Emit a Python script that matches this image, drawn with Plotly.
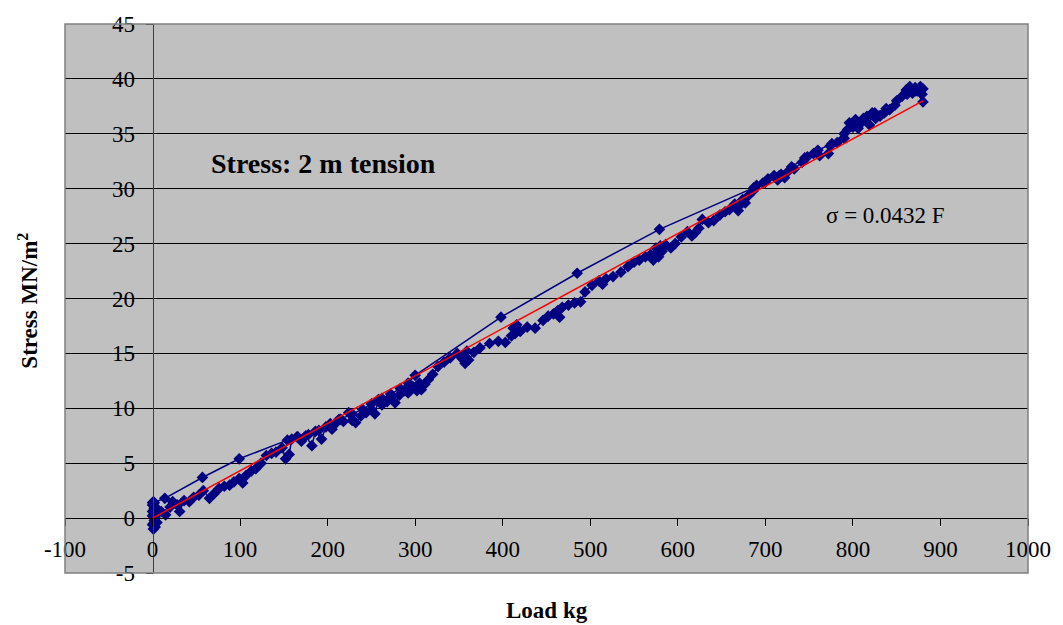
import plotly.graph_objects as go

# Load (kg) and stress (MN/m^2) readings, in recorded order
load_kg = [
    0, 1, 2, 0, 3, 1, 4, 2, 0, 3, 5, 2, 1, 4, 3, 6,
    10, 15, 20, 23, 28, 31, 36, 42, 47, 53, 58, 65, 70, 76, 82, 88, 93, 99, 103, 107,
    113, 118, 124, 130, 136, 141, 148, 152, 156, 159, 165, 170, 175, 182, 186, 193, 198,
    205, 210, 213, 218, 224, 228, 232, 238, 244, 250, 254, 258, 262, 268, 273, 277, 282,
    288, 292, 297, 302, 305, 307, 311, 315, 320, 326, 333, 340, 348, 354, 357, 359, 356,
    361, 367, 374, 385, 395, 403, 410, 412, 414, 416, 420, 428, 437, 446, 452, 458, 463,
    465, 468, 475, 482, 489, 494, 502, 510, 514, 518, 526, 535, 543, 550, 556, 563, 569,
    572, 575, 578, 580, 576, 582, 586, 592, 597, 604, 611, 616, 620, 624, 628, 635, 641,
    648, 654, 659, 665, 669, 671, 674, 677, 681, 686, 690, 697, 703, 710, 714, 718, 722,
    725, 733, 742, 748, 755, 762, 772, 774, 782, 790, 794, 796, 800, 803, 806, 808, 812,
    816, 819, 822, 826, 831, 836, 842, 850, 856, 861, 865, 868, 871, 874, 877, 880, 879, 880,
    872, 862, 848, 838, 825, 812, 800, 790, 776, 760, 745, 730, 716, 700, 687,
    579, 485, 398, 300, 292, 283, 272, 262, 250, 240, 228, 215, 203, 190, 178, 166, 154,
    99, 57, 14, 0, 2, 1, 3, 0,
]
stress_mn_m2 = [
    0.2, -0.5, 0.8, 1.2, -0.8, 1.5, 0.3, -0.2, 0.6, 1.0, -0.4, 1.4, -1.0, 0.9, 0.0, 0.5,
    0.6, 0.3, 1.0, 1.5, 1.2, 0.6, 1.6, 1.5, 1.9, 2.1, 2.5, 1.8, 2.2, 2.7, 2.9, 3.0, 3.3, 3.6, 3.2, 3.9,
    4.3, 4.5, 5.0, 5.7, 5.9, 6.0, 6.4, 5.4, 5.8, 7.2, 7.4, 7.0, 7.5, 6.6, 7.9, 7.2, 8.3,
    8.1, 8.7, 9.0, 8.8, 9.6, 8.9, 8.7, 9.3, 9.6, 9.9, 9.5, 10.8, 10.3, 10.6, 11.0, 10.5, 11.2,
    11.6, 11.4, 12.0, 11.6, 12.3, 11.7, 12.2, 12.6, 13.1, 13.8, 14.2, 14.6, 15.0, 14.5, 14.1, 15.2, 14.8,
    14.4, 15.1, 15.5, 15.9, 16.1, 16.0, 16.6, 17.3, 16.8, 17.6, 17.0, 17.4, 17.3, 18.0, 18.4, 18.6, 18.9,
    18.3, 19.2, 19.4, 19.6, 19.7, 20.6, 21.2, 21.6, 21.3, 21.8, 22.0, 22.4, 22.9, 23.3, 23.5, 23.8, 24.0,
    23.5, 24.6, 23.8, 24.8, 24.2, 24.3, 24.9, 24.6, 25.0, 25.6, 26.1, 25.7, 26.0, 26.4, 27.2, 26.9, 27.1,
    27.6, 27.9, 28.1, 28.6, 28.0, 28.5, 29.0, 28.7, 29.4, 29.8, 30.3, 30.5, 30.9, 31.2, 30.8, 31.3, 31.0,
    31.5, 31.8, 32.4, 32.9, 33.2, 33.0, 33.2, 33.9, 34.2, 34.6, 35.4, 36.0, 35.7, 36.3, 35.5, 35.9, 36.2,
    36.6, 35.8, 36.9, 36.4, 36.6, 36.9, 37.2, 38.0, 38.4, 39.0, 39.3, 38.7, 39.2, 38.9, 39.3, 39.1, 38.6, 37.9,
    38.9, 38.6, 37.6, 37.3, 36.9, 36.4, 35.6, 35.0, 34.1, 33.5, 32.8, 32.0, 31.2, 30.6, 30.1,
    26.3, 22.3, 18.3, 13.0, 12.3, 11.8, 11.3, 10.9, 10.4, 9.9, 9.5, 9.0, 8.6, 8.0, 7.6, 7.4, 7.1,
    5.4, 3.7, 1.8, 1.4, 0.9, 0.3, -0.3, -0.6,
]

# Linear fit sigma = 0.0432 F, end points
fit_load = [0, 880]
fit_stress = [0.0, 38.0]

x_ticks = [-100, 0, 100, 200, 300, 400, 500, 600, 700, 800, 900, 1000]
x_labels = ["-100", "0", "100", "200", "300", "400", "500", "600", "700", "800", "900", "1000"]
y_ticks = [-5, 0, 5, 10, 15, 20, 25, 30, 35, 40, 45]
y_labels = ["-5", "0", "5", "10", "15", "20", "25", "30", "35", "40", "45"]

FONT = "Liberation Serif, Times New Roman, serif"
NAVY = "#000080"

L, R, T, B = 65, 1032, 17, 573  # plot area in pixels


def px(xp):
    return (xp - L) / (R - L)


def py(yp):
    return (B - yp) / (B - T)


fig = go.Figure()
fig.add_trace(go.Scatter(
    x=load_kg, y=stress_mn_m2, mode="lines+markers",
    line=dict(color=NAVY, width=1.5),
    marker=dict(symbol="diamond", size=9, color=NAVY),
    showlegend=False, hoverinfo="x+y",
))
fig.add_trace(go.Scatter(
    x=fit_load, y=fit_stress, mode="lines",
    line=dict(color="#FF0000", width=1.5),
    showlegend=False,
))

fig.update_layout(
    width=1063, height=625,
    margin=dict(l=L, r=1063 - R, t=T, b=625 - B),
    paper_bgcolor="white",
    plot_bgcolor="#C0C0C0",
    font=dict(family=FONT, size=23, color="black"),
    xaxis=dict(
        range=[-100, 1000], domain=[0, 1],
        anchor="free", position=5 / 50,
        tickvals=x_ticks, ticktext=x_labels,
        showgrid=False, zeroline=False,
        showline=True, linecolor="black", linewidth=1,
        ticks="outside", ticklen=7, tickcolor="black", tickwidth=1,
        ticklabelstandoff=3,
        tickfont=dict(family=FONT, size=23, color="black"),
    ),
    yaxis=dict(
        range=[-5, 45], domain=[0, 1],
        anchor="free", position=100 / 1100,
        tickvals=y_ticks, ticktext=y_labels,
        showgrid=True, gridcolor="black", gridwidth=1,
        zeroline=False,
        showline=True, linecolor="#404040", linewidth=1,
        ticks="outside", ticklen=7, tickcolor="black", tickwidth=1,
        ticklabelstandoff=6,
        tickfont=dict(family=FONT, size=23, color="black"),
    ),
    shapes=[dict(type="rect", xref="paper", yref="paper", x0=0, x1=1, y0=0, y1=1,
                 line=dict(color="#808080", width=1.5), fillcolor="rgba(0,0,0,0)", layer="above")],
    annotations=[
        dict(text="<b>Stress: 2 m tension</b>", x=65, y=32.3, xref="x", yref="y",
             xanchor="left", yanchor="middle", showarrow=False,
             font=dict(family=FONT, size=28, color="black")),
        dict(text="σ = 0.0432 F", x=767, y=27.6, xref="x", yref="y",
             xanchor="left", yanchor="middle", showarrow=False,
             font=dict(family=FONT, size=23, color="black")),
        dict(text="<b>Load kg</b>", x=px(549), y=py(611), xref="paper", yref="paper",
             xanchor="center", yanchor="middle",
             showarrow=False, font=dict(family=FONT, size=23, color="black")),
        dict(text="<b>Stress MN/m<sup>2</sup></b>", x=px(28), y=py(297),
             xref="paper", yref="paper", xanchor="center", yanchor="middle",
             textangle=-90, showarrow=False,
             font=dict(family=FONT, size=23, color="black")),
    ],
)

fig.write_html("out.html")
